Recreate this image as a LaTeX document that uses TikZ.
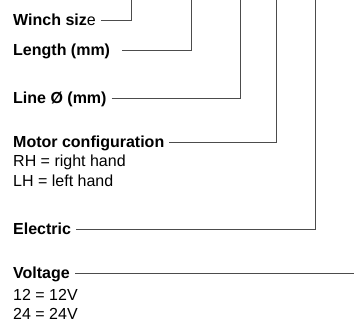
\documentclass[tikz,border=0pt]{standalone}
\usepackage{fontspec}
\setmainfont{Liberation Sans}
\begin{document}
\begin{tikzpicture}[x=1pt,y=-1pt,
		lbl/.style={anchor=base west,inner xsep=5pt,inner ysep=0pt,text height=11.5pt,text depth=0pt,font=\fontsize{16}{19}\selectfont},
		leader/.style={black!70,line width=0.9pt}]
		\useasboundingbox (0,0) rectangle (354,323);
		% upper ends of the leaders
		\coordinate (wtop) at (131,0);
		\coordinate (ltop) at (191,0);
		\coordinate (dtop) at (240,0);
		\coordinate (mtop) at (276,0);
		\coordinate (etop) at (315,0);
		\coordinate (vend) at (354,0);
		
		\node[lbl] (winch) at (8,26) {\textbf{Winch siz}e};
		\node[lbl] (len) at (8,56) {\textbf{Length (mm)}};
		\node[lbl] (dia) at (8,104) {\textbf{Line Ø (mm)}};
		\node[lbl] (motor) at (8,148) {\textbf{Motor configuration}};
		\node[lbl] (rh) at (8,167) {RH = right hand};
		\node[lbl] (lh) at (8,187) {LH = left hand};
		\node[lbl] (elec) at (8,235) {\textbf{Electric}};
		\node[lbl] (volt) at (8,279) {\textbf{Voltage}};
		\node[lbl] (v12) at (8,301) {12 = 12V};
		\node[lbl] (v24) at (8,320) {24 = 24V};
		
		\draw[leader] (winch.east) -| (wtop);
		\draw[leader] ([xshift=7pt]len.east) -| (ltop);
		\draw[leader] (dia.east) -| (dtop);
		\draw[leader] (motor.east) -| (mtop);
		\draw[leader] (elec.east) -| (etop);
		\draw[leader] (volt.east) -- (volt.east -| vend);
	\end{tikzpicture}
\end{document}
